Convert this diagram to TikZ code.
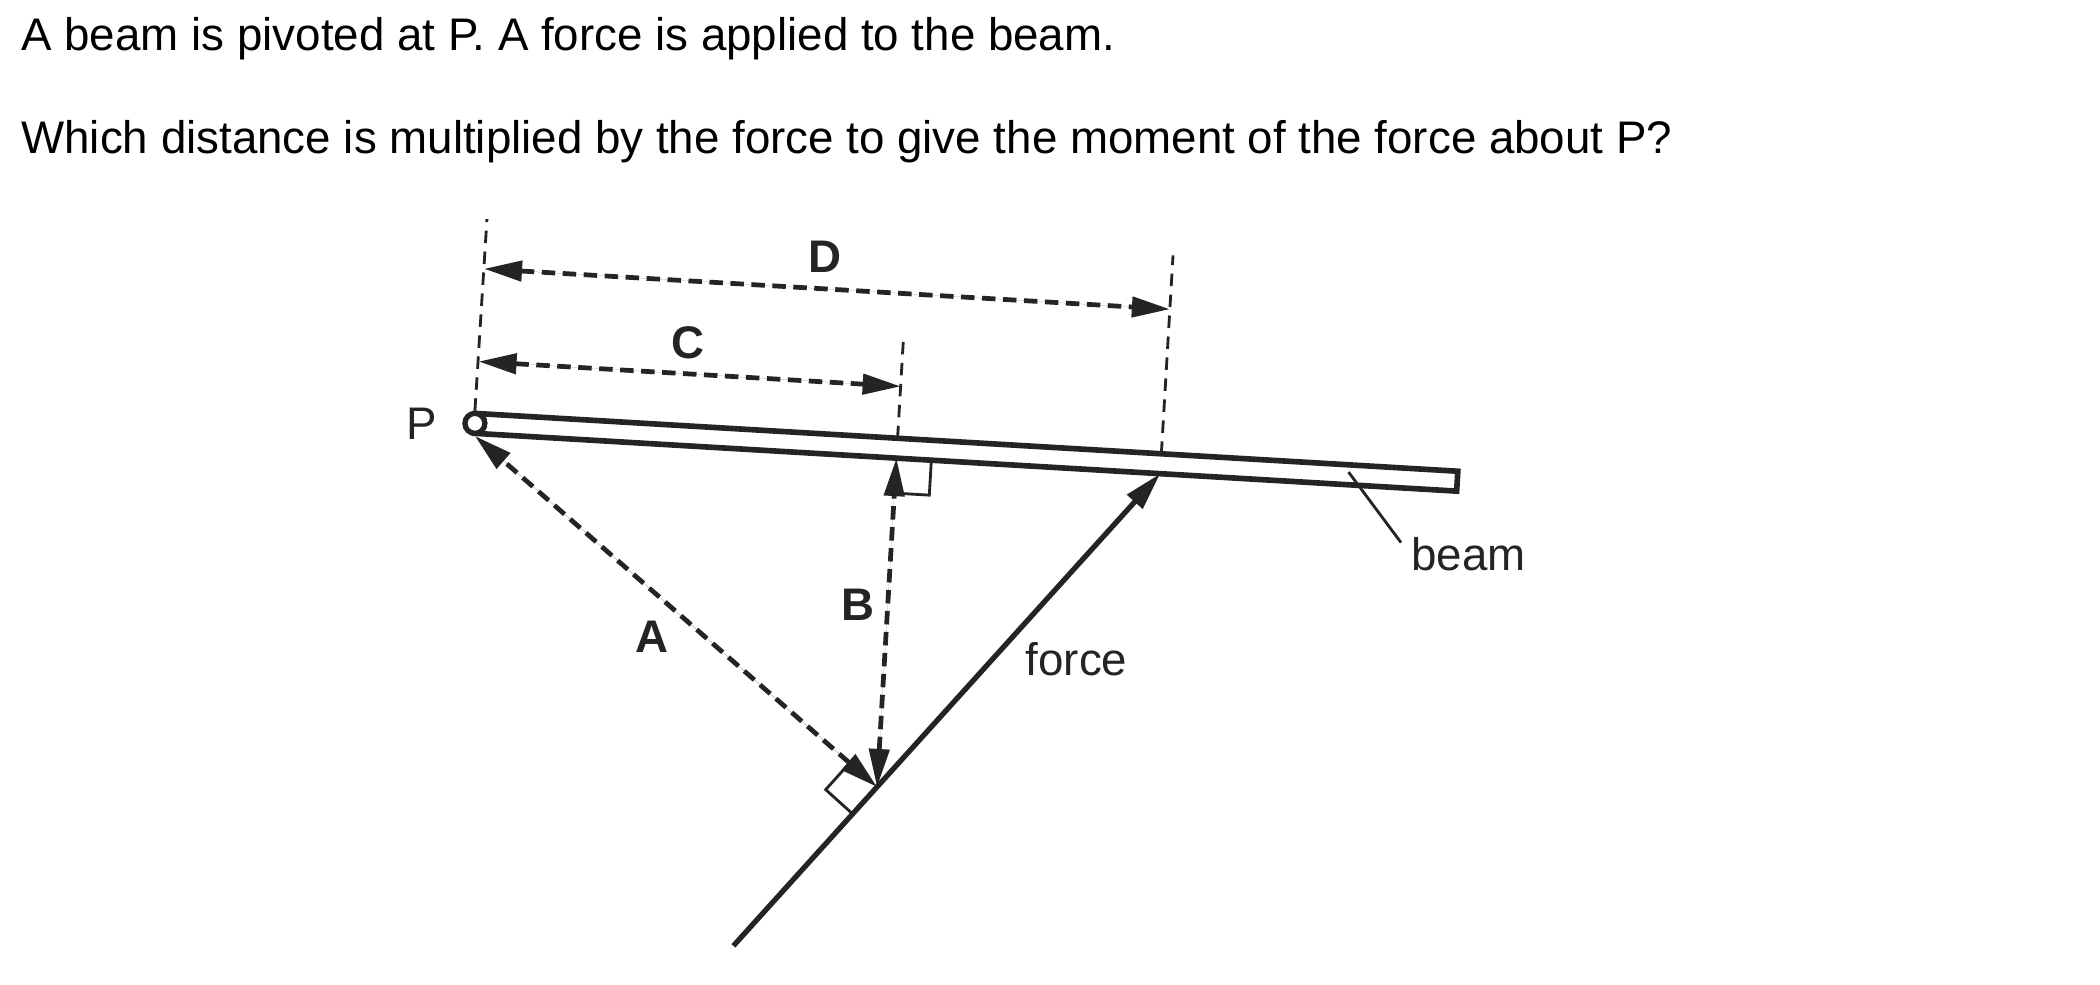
\documentclass[tikz,border=0pt]{standalone}
\usepackage{fontspec}
\setmainfont{Liberation Sans}
\usetikzlibrary{arrows.meta}
\colorlet{ink}{black!86}
\tikzset{
    beam line/.style  = {draw=ink, line width=1.6pt, line join=miter},
    force line/.style = {draw=ink, fill=ink, line width=1.5pt, -{Triangle[length=3.8mm,width=2mm]}},
    dim arrow/.style  = {draw=ink, fill=ink, line width=1.35pt, dash pattern=on 1.35mm off 0.75mm,
                         {Triangle[length=3.8mm,width=2mm]}-{Triangle[length=3.8mm,width=2mm]}},
    ext line/.style   = {draw=ink, line width=0.8pt, dash pattern=on 1.25mm off 0.85mm},
    mark line/.style  = {draw=ink, line width=0.8pt},
    lead line/.style  = {draw=ink, line width=0.8pt},
    pivot/.style      = {circle, draw=ink, fill=white, line width=1.5pt, minimum size=2mm, inner sep=0pt},
    question/.style   = {font=\fontsize{13}{16}\selectfont, inner sep=0pt, anchor=base west},
    letter/.style     = {text=ink, font=\fontsize{13}{16}\selectfont\bfseries, inner sep=0pt},
    word/.style       = {text=ink, font=\fontsize{13}{16}\selectfont, inner sep=0pt, anchor=base west}
}
\begin{document}
\begin{tikzpicture}[x=0.13462mm, y=-0.13462mm]
	\fill[white] (0,0) rectangle (1560,731);
	\useasboundingbox (0,0) rectangle (1560,731);
	\node[question] (q1) at (15.4,37.5) {A beam is pivoted at P. A force is applied to the beam.};
	\node[question] (q2) at (15.4,114) {Which distance is multiplied by the force to give the moment of the force about P?};
	\begin{scope}[shift={(352.8,314.5)}, rotate=-3.37]
		\coordinate (J) at (314.1,252.1);
		\coordinate (Fb) at (214.5,376.2);
		\coordinate (Fd) at (510.4,7.4);
		\coordinate (Cb) at (314.1,7.4);
		\coordinate (Ct) at (314.1,-7.4);
		\coordinate (Dt) at (510.4,-7.4);
		\coordinate (Ptop) at (0,-152);
		\coordinate (Ctop) at (314.1,-81);
		\coordinate (Dtop) at (510.4,-155);
		\coordinate (C1) at (0,-46);
		\coordinate (C2) at (314.1,-46);
		\coordinate (D1) at (0,-115);
		\coordinate (D2) at (510.4,-115);
		\coordinate (lead1) at (650,-2);
		\coordinate (lead2) at (692,48);
		\draw[beam line] (0,-7.4) -- (731,-7.4) -- (731,7.4) -- (0,7.4) -- cycle;
		\node[pivot] (P) at (0,0) {};
		\draw[ext line] (P.north) -- (Ptop);
		\draw[ext line] (Ct) -- (Ctop);
		\draw[ext line] (Dt) -- (Dtop);
		\draw[dim arrow] (D1) -- (D2);
		\draw[dim arrow] (C1) -- (C2);
		\draw[mark line] (340.1,7.4) -- (340.1,33.4) -- (314.1,33.4);
		\draw[mark line] (297.2,273.2) -- (276.1,256.3) -- (293.0,235.2);
		\draw[force line] (Fb) -- (Fd);
		\draw[dim arrow] (J) -- (Cb);
		\draw[dim arrow] (J) -- (P.south);
	\end{scope}
	\draw[lead line] (lead1) -- (lead2);
	\node[word, anchor=center] (lblP) at (313,315) {P};
	\node[letter] (lblD) at (613,191) {D};
	\node[letter] (lblC) at (511,255) {C};
	\node[letter] (lblA) at (484,473) {A};
	\node[letter] (lblB) at (637,449) {B};
	\node[word] (lblforce) at (761.5,502) {force};
	\node[word] (lblbeam) at (1048,423.5) {beam};
\end{tikzpicture}
\end{document}
